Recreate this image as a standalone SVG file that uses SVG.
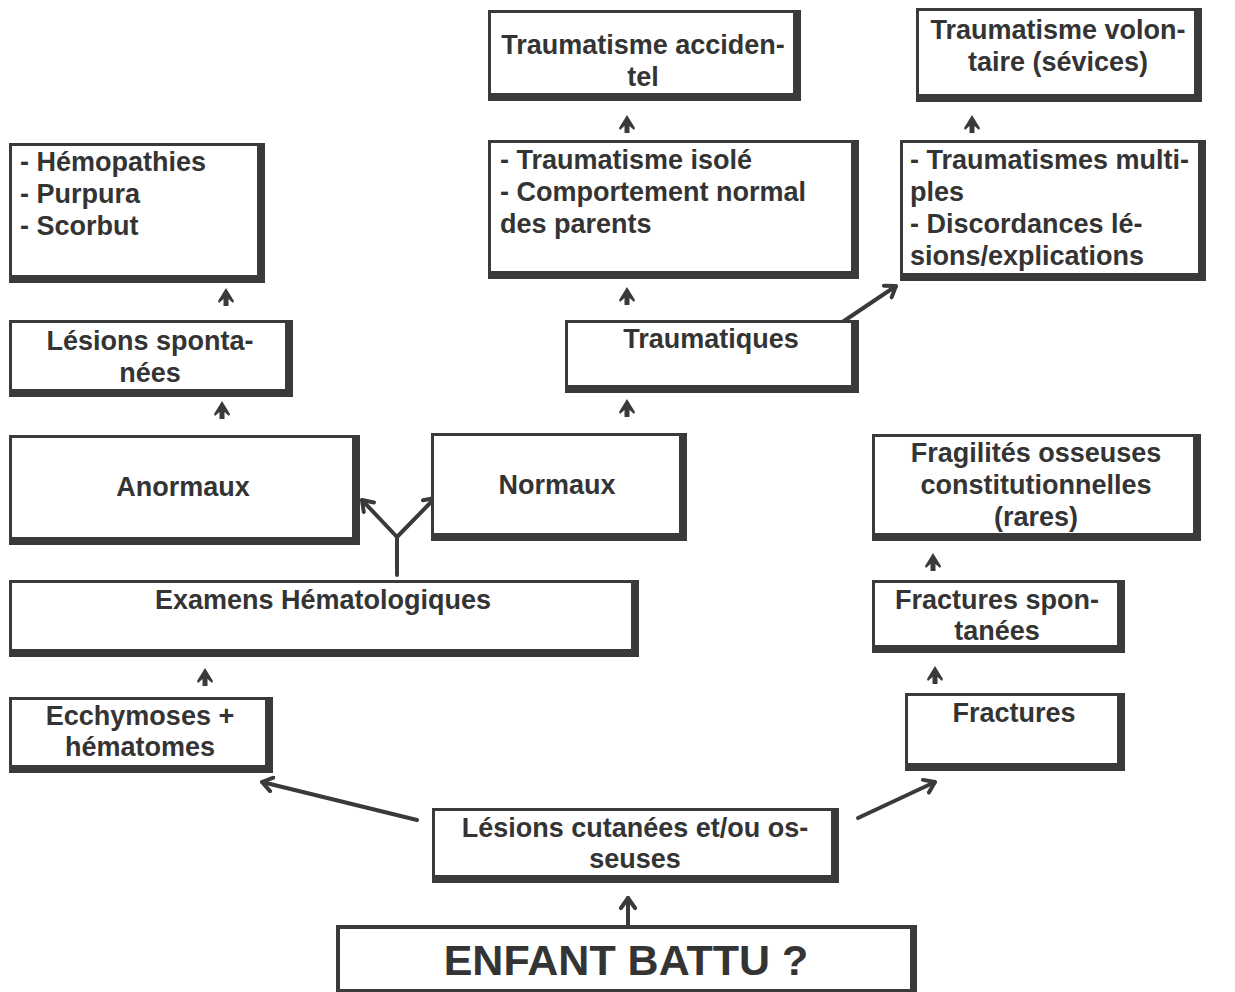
<svg xmlns="http://www.w3.org/2000/svg" width="1235" height="992" viewBox="0 0 1235 992">
<defs>
<style>
.frame{fill:#3a3a3a}
.inner{fill:#ffffff}
text{font-family:"Liberation Sans",Arial,sans-serif;font-weight:bold;font-size:27px;fill:#343434}
.c{text-anchor:middle}
.big{font-size:43px}
.ln{stroke:#3a3a3a;stroke-width:4;fill:none;stroke-linecap:round}
.head{fill:#3a3a3a}
</style>
<marker id="arr" viewBox="-12 -9 14 18" refX="0" refY="0" markerWidth="14" markerHeight="18" markerUnits="userSpaceOnUse" orient="auto">
<path d="M-10,-7 L0,0 L-10,7" fill="none" stroke="#3a3a3a" stroke-width="4" stroke-linecap="round" stroke-linejoin="round"/>
</marker>
<path id="up" d="M0,-10 L8,3 L7,5 L2.5,1 L2.5,8 L-2.5,8 L-2.5,1 L-7,5 L-8,3 Z"/>
</defs>

<g id="connectors">
<use href="#up" class="head" x="627" y="125"/>
<use href="#up" class="head" x="972" y="125"/>
<use href="#up" class="head" x="226" y="298"/>
<use href="#up" class="head" x="627" y="297"/>
<use href="#up" class="head" x="222" y="411"/>
<use href="#up" class="head" x="627" y="409"/>
<use href="#up" class="head" x="933" y="563"/>
<use href="#up" class="head" x="205" y="678"/>
<use href="#up" class="head" x="935" y="676"/>
<line class="ln" x1="838" y1="325" x2="896" y2="286" marker-end="url(#arr)"/>
<polyline class="ln" points="397,575 397,537"/>
<line class="ln" x1="397" y1="537" x2="362" y2="500" marker-end="url(#arr)"/>
<line class="ln" x1="397" y1="537" x2="435" y2="498" marker-end="url(#arr)"/>
<line class="ln" x1="417" y1="820" x2="262" y2="782" marker-end="url(#arr)"/>
<line class="ln" x1="858" y1="818" x2="935" y2="782" marker-end="url(#arr)"/>
<line class="ln" x1="628" y1="935" x2="628" y2="898" marker-end="url(#arr)"/>
</g>

<g id="n-accidentel">
<rect class="frame" x="488" y="10" width="313" height="91"/>
<rect class="inner" x="491" y="13" width="302" height="80"/>
<text class="c" x="643" y="54">Traumatisme acciden-</text>
<text class="c" x="643" y="86">tel</text>
</g>

<g id="n-volontaire">
<rect class="frame" x="916" y="8" width="286" height="94"/>
<rect class="inner" x="919" y="11" width="275" height="83"/>
<text class="c" x="1058" y="39">Traumatisme volon-</text>
<text class="c" x="1058" y="71">taire (sévices)</text>
</g>

<g id="n-hemopathies">
<rect class="frame" x="9" y="143" width="256" height="140"/>
<rect class="inner" x="12" y="146" width="245" height="129"/>
<text x="20" y="171">- Hémopathies</text>
<text x="20" y="203">- Purpura</text>
<text x="20" y="235">- Scorbut</text>
</g>

<g id="n-isole">
<rect class="frame" x="488" y="140" width="371" height="139"/>
<rect class="inner" x="491" y="143" width="360" height="128"/>
<text x="500" y="169">- Traumatisme isolé</text>
<text x="500" y="201">- Comportement normal</text>
<text x="500" y="233">des parents</text>
</g>

<g id="n-multiples">
<rect class="frame" x="900" y="140" width="306" height="141"/>
<rect class="inner" x="903" y="143" width="295" height="130"/>
<text x="910" y="169">- Traumatismes multi-</text>
<text x="910" y="201">ples</text>
<text x="910" y="233">- Discordances lé-</text>
<text x="910" y="265">sions/explications</text>
</g>

<g id="n-spontanees">
<rect class="frame" x="9" y="320" width="284" height="77"/>
<rect class="inner" x="12" y="323" width="273" height="66"/>
<text class="c" x="150" y="350">Lésions sponta-</text>
<text class="c" x="150" y="382">nées</text>
</g>

<g id="n-traumatiques">
<rect class="frame" x="565" y="320" width="294" height="73"/>
<rect class="inner" x="568" y="323" width="283" height="62"/>
<text class="c" x="711" y="348">Traumatiques</text>
</g>

<g id="n-anormaux">
<rect class="frame" x="9" y="435" width="351" height="110"/>
<rect class="inner" x="12" y="438" width="340" height="99"/>
<text class="c" x="183" y="496">Anormaux</text>
</g>

<g id="n-normaux">
<rect class="frame" x="431" y="433" width="256" height="108"/>
<rect class="inner" x="434" y="436" width="245" height="97"/>
<text class="c" x="557" y="494">Normaux</text>
</g>

<g id="n-fragilites">
<rect class="frame" x="872" y="434" width="329" height="107"/>
<rect class="inner" x="875" y="437" width="318" height="96"/>
<text class="c" x="1036" y="462">Fragilités osseuses</text>
<text class="c" x="1036" y="494">constitutionnelles</text>
<text class="c" x="1036" y="526">(rares)</text>
</g>

<g id="n-examens">
<rect class="frame" x="9" y="580" width="630" height="77"/>
<rect class="inner" x="12" y="583" width="619" height="66"/>
<text class="c" x="323" y="609">Examens Hématologiques</text>
</g>

<g id="n-fractures-spon">
<rect class="frame" x="872" y="580" width="253" height="73"/>
<rect class="inner" x="875" y="583" width="242" height="62"/>
<text class="c" x="997" y="609">Fractures spon-</text>
<text class="c" x="997" y="640">tanées</text>
</g>

<g id="n-ecchymoses">
<rect class="frame" x="9" y="697" width="264" height="76"/>
<rect class="inner" x="12" y="700" width="253" height="65"/>
<text class="c" x="140" y="725">Ecchymoses +</text>
<text class="c" x="140" y="756">hématomes</text>
</g>

<g id="n-fractures">
<rect class="frame" x="905" y="693" width="220" height="78"/>
<rect class="inner" x="908" y="696" width="209" height="67"/>
<text class="c" x="1014" y="722">Fractures</text>
</g>

<g id="n-lesions">
<rect class="frame" x="432" y="808" width="407" height="75"/>
<rect class="inner" x="435" y="811" width="396" height="64"/>
<text class="c" x="635" y="837">Lésions cutanées et/ou os-</text>
<text class="c" x="635" y="868">seuses</text>
</g>

<g id="n-enfant">
<rect class="frame" x="336" y="925" width="581" height="67"/>
<rect class="inner" x="340" y="929" width="570" height="60"/>
<text class="c big" x="626" y="975">ENFANT BATTU ?</text>
</g>
</svg>
